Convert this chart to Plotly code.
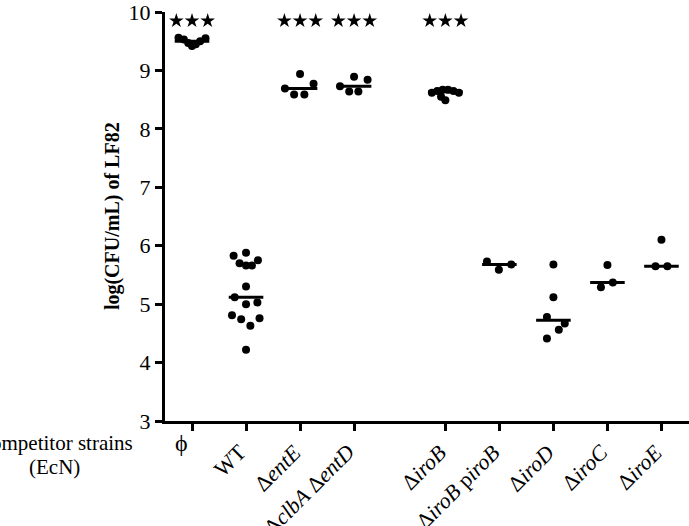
import numpy as np
import plotly.graph_objects as go

# ---- data ----
categories = ["ϕ", "WT", "Δ<i>entE</i>", "Δ<i>clbA</i> Δ<i>entD</i>",
              "Δ<i>iroB</i>", "Δ<i>iroB</i> p<i>iroB</i>", "Δ<i>iroD</i>",
              "Δ<i>iroC</i>", "Δ<i>iroE</i>"]
cat_pos = [0, 1, 2, 3, 4.69, 5.69, 6.69, 7.69, 8.69]
y_range = [3, 10]

vals_phi = [9.56, 9.53, 9.47, 9.42, 9.45, 9.50, 9.55]
jit_phi = [-0.25, -0.15, -0.07, 0.0, 0.07, 0.15, 0.25]
vals_wt = [5.83, 5.88, 5.70, 5.66, 5.66, 5.75, 5.30, 5.12, 5.00, 5.03, 4.81, 4.74, 4.63, 4.76, 4.22]
jit_wt = [-0.23, 0.0, -0.12, 0.0, 0.11, 0.22, 0.0, -0.21, 0.0, 0.21, -0.26, -0.09, 0.08, 0.25, 0.0]
vals_entE = [8.69, 8.94, 8.59, 8.59, 8.77]
jit_entE = [-0.28, 0.0, -0.11, 0.08, 0.25]
vals_clbA_entD = [8.73, 8.89, 8.64, 8.64, 8.84]
jit_clbA_entD = [-0.26, 0.0, -0.09, 0.08, 0.25]
vals_iroB = [8.62, 8.65, 8.67, 8.67, 8.65, 8.62, 8.55, 8.49]
jit_iroB = [-0.25, -0.15, -0.05, 0.05, 0.15, 0.25, -0.08, 0.0]
vals_iroB_p = [5.73, 5.59, 5.68]
jit_iroB_p = [-0.23, -0.01, 0.22]
vals_iroD = [5.68, 5.12, 4.78, 4.67, 4.56, 4.41]
jit_iroD = [0.0, 0.0, -0.12, 0.21, 0.10, -0.12]
vals_iroC = [5.67, 5.29, 5.37]
jit_iroC = [0.0, -0.12, 0.10]
vals_iroE = [5.65, 5.65, 6.10]
jit_iroE = [-0.11, 0.11, 0.0]

all_vals = [vals_phi, vals_wt, vals_entE, vals_clbA_entD, vals_iroB,
            vals_iroB_p, vals_iroD, vals_iroC, vals_iroE]
all_jit = [jit_phi, jit_wt, jit_entE, jit_clbA_entD, jit_iroB,
           jit_iroB_p, jit_iroD, jit_iroC, jit_iroE]
significant = [True, False, True, True, True, False, False, False, False]
star_level = 9.85

FONT = "Liberation Serif"

fig = go.Figure()

for pos, vals, jit in zip(cat_pos, all_vals, all_jit):
    fig.add_trace(go.Scatter(
        x=[pos + j for j in jit], y=vals, mode="markers",
        marker=dict(color="black", size=8, line=dict(width=0)),
        showlegend=False))
    med = float(np.median(vals))
    fig.add_trace(go.Scatter(
        x=[pos - 0.32, pos + 0.32], y=[med, med], mode="lines",
        line=dict(color="black", width=3), showlegend=False))

sx, sy = [], []
for pos, sig in zip(cat_pos, significant):
    if sig:
        for d in (-0.29, 0.0, 0.29):
            sx.append(pos + d)
            sy.append(star_level)
fig.add_trace(go.Scatter(x=sx, y=sy, mode="markers",
                         marker=dict(symbol="star", color="black", size=11, line=dict(width=0)),
                         showlegend=False))

annotations = []
annotations.append(dict(x=cat_pos[0] - 0.2, y=-0.053, xref="x", yref="paper",
                        text=categories[0], showarrow=False,
                        font=dict(family=FONT, size=24, color="black"),
                        xanchor="center", yanchor="middle"))
for pos, lab in zip(cat_pos[1:], categories[1:]):
    annotations.append(dict(x=pos + 0.15, y=-0.039, xref="x", yref="paper",
                            text=lab, showarrow=False, textangle=-45,
                            font=dict(family=FONT, size=22, color="black"),
                            xanchor="right", yanchor="top"))
annotations.append(dict(x=-0.2107, y=-0.053, xref="paper", yref="paper",
                        text="Competitor strains", showarrow=False,
                        xanchor="center", yanchor="middle",
                        font=dict(family=FONT, size=21, color="black")))
annotations.append(dict(x=-0.2107, y=-0.1135, xref="paper", yref="paper",
                        text="(EcN)", showarrow=False,
                        xanchor="center", yanchor="middle",
                        font=dict(family=FONT, size=21, color="black")))
annotations.append(dict(x=-0.1, y=0.5, xref="paper", yref="paper",
                        text="<b>log(CFU/mL) of LF82</b>", showarrow=False, textangle=-90,
                        xanchor="center", yanchor="middle",
                        font=dict(family=FONT, size=20, color="black")))

fig.update_layout(
    width=689, height=526,
    margin=dict(l=165, r=0, t=7, b=105),
    plot_bgcolor="white", paper_bgcolor="white",
    font=dict(family=FONT, size=21, color="black"),
    xaxis=dict(range=[-0.5, 9.2], tickmode="array", tickvals=cat_pos,
               ticktext=[""] * len(cat_pos),
               showgrid=False, zeroline=False, showline=True,
               linecolor="black", linewidth=3, ticks="outside", ticklen=7, tickwidth=3,
               tickcolor="black"),
    yaxis=dict(range=y_range, dtick=1, tick0=0,
               showgrid=False, zeroline=False, showline=True, ticklabeloverflow="allow",
               linecolor="black", linewidth=3, ticks="outside", ticklen=7, tickwidth=3,
               tickcolor="black", tickfont=dict(family=FONT, size=22)),
    annotations=annotations,
)

fig.write_html("out.html", config={"displayModeBar": False},
               post_script="document.body.style.margin='0';document.body.style.padding='0';")
